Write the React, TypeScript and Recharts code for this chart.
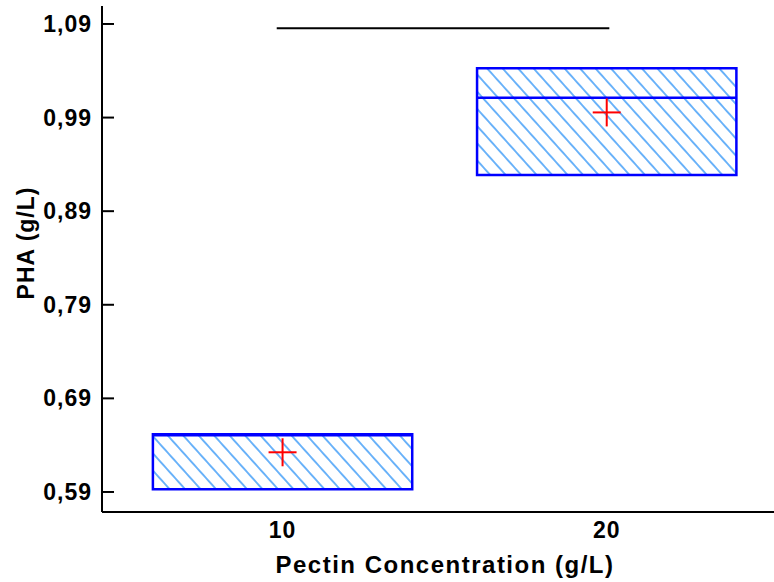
import React from "react";
import {
  ComposedChart,
  XAxis,
  YAxis,
  ReferenceArea,
  ReferenceLine,
  Scatter,
} from "recharts";

// pectin concentration groups (g/L)
const groups = [10, 20];
// box statistics, PHA (g/L)
const lowerQuartile = [0.5929, 0.9287];
const upperQuartile = [0.6516, 1.0427];
const medians = [0.6505, 1.0113];
const means = [0.6324, 0.9955];
// horizontal line drawn above the boxes
const topLineX = [9.82, 20.08];
const topLineY = 1.0854;

const yTicks = [0.59, 0.69, 0.79, 0.89, 0.99, 1.09];
const xTicks = [10, 20];

const BOX_HALF = 4;
const FONT = "'Liberation Sans', Arial, sans-serif";

const meanData = groups.map((g, i) => ({ x: g, y: means[i] }));

const MeanCross = (props: any) => {
  const { cx, cy } = props;
  return (
    <g>
      <line x1={cx - 14} x2={cx + 14} y1={cy} y2={cy} stroke="#ff0000" strokeWidth={2} />
      <line x1={cx} x2={cx} y1={cy - 14} y2={cy + 14} stroke="#ff0000" strokeWidth={2} />
    </g>
  );
};

const YTick = (props: any) => {
  const { x, y, payload } = props;
  return (
    <g>
      <line x1={x + 11} x2={x + 23} y1={y} y2={y} stroke="#000" strokeWidth={2} />
      <text
        x={x + 1}
        y={y}
        textAnchor="end"
        dominantBaseline="central"
        fontFamily={FONT}
        fontWeight="bold"
        fontSize={23}
        letterSpacing={1}
        fill="#000"
      >
        {payload.value.toFixed(2).replace(".", ",")}
      </text>
    </g>
  );
};

const YLabel = (props: any) => {
  const { viewBox } = props;
  const cx = viewBox.x + 26;
  const cy = viewBox.y + viewBox.height / 2 - 16;
  return (
    <text
      x={cx}
      y={cy}
      transform={`rotate(-90, ${cx}, ${cy})`}
      textAnchor="middle"
      dominantBaseline="central"
      fontFamily={FONT}
      fontWeight="bold"
      fontSize={23}
      letterSpacing={1}
      fill="#000"
    >
      PHA (g/L)
    </text>
  );
};

const XLabel = (props: any) => {
  const { viewBox } = props;
  return (
    <text
      x={viewBox.x + viewBox.width / 2 + 7}
      y={viewBox.y + 61}
      textAnchor="middle"
      fontFamily={FONT}
      fontWeight="bold"
      fontSize={24}
      letterSpacing={1.5}
      fill="#000"
    >
      Pectin Concentration (g/L)
    </text>
  );
};

export default function App() {
  return (
    <div style={{ position: "fixed", left: 0, top: 0, background: "#fff" }}>
      <ComposedChart
        width={774}
        height={582}
        data={meanData}
        margin={{ top: 6, right: 0, bottom: 0, left: 0 }}
      >
        <defs>
          <pattern
            id="hatch"
            patternUnits="userSpaceOnUse"
            width={11.5}
            height={11.5}
            patternTransform="rotate(-42)"
          >
            <line x1={5.75} y1={-2} x2={5.75} y2={14} stroke="#4aa2f8" strokeWidth={1.6} />
          </pattern>
        </defs>
        <XAxis
          type="number"
          dataKey="x"
          domain={[4.43, 25.16]}
          allowDataOverflow
          ticks={xTicks}
          tickLine={false}
          tickSize={0}
          tickMargin={10}
          height={70}
          axisLine={{ stroke: "#000", strokeWidth: 2 }}
          tick={{ fill: "#000", fontFamily: FONT, fontWeight: "bold", fontSize: 23, letterSpacing: 1 }}
          label={<XLabel />}
        />
        <YAxis
          type="number"
          dataKey="y"
          domain={[0.5686, 1.1092]}
          allowDataOverflow
          ticks={yTicks}
          tickSize={0}
          tickMargin={11}
          tickLine={false}
          width={102}
          axisLine={{ stroke: "#000", strokeWidth: 2 }}
          tick={<YTick />}
          label={<YLabel />}
        />
        {groups.map((g, i) => (
          <ReferenceArea
            key={`box-${g}`}
            x1={g - BOX_HALF}
            x2={g + BOX_HALF}
            y1={lowerQuartile[i]}
            y2={upperQuartile[i]}
            fill="url(#hatch)"
            fillOpacity={1}
            stroke="#0000ff"
            strokeWidth={2.5}
          />
        ))}
        {groups.map((g, i) => (
          <ReferenceLine
            key={`med-${g}`}
            segment={[
              { x: g - BOX_HALF, y: medians[i] },
              { x: g + BOX_HALF, y: medians[i] },
            ]}
            stroke="#0000ff"
            strokeWidth={2.5}
          />
        ))}
        <ReferenceLine
          segment={[
            { x: topLineX[0], y: topLineY },
            { x: topLineX[1], y: topLineY },
          ]}
          stroke="#000"
          strokeWidth={2}
        />
        <Scatter
          data={meanData}
          dataKey="y"
          shape={<MeanCross />}
          isAnimationActive={false}
        />
      </ComposedChart>
    </div>
  );
}
